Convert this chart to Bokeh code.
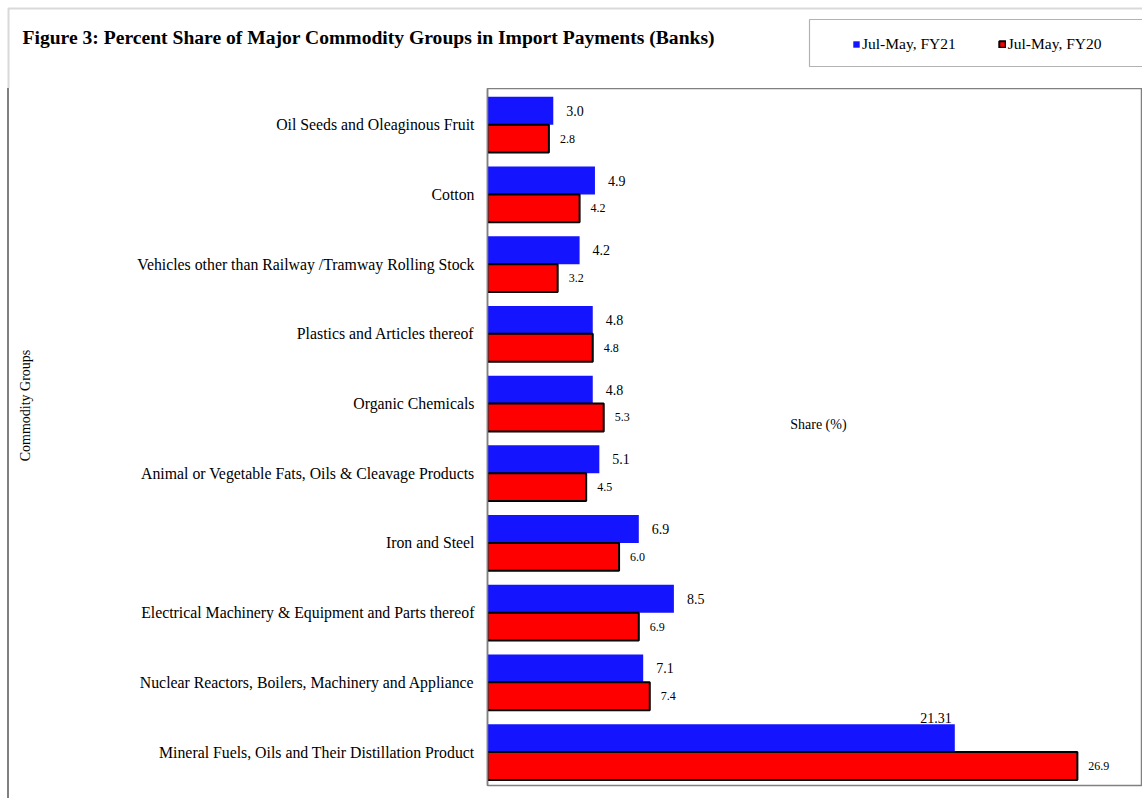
from bokeh.plotting import figure
from bokeh.layouts import column
from bokeh.models import Range1d, FixedTicker, Legend, LegendItem, Label, BoxAnnotation, ColumnDataSource
from bokeh.core.properties import value
from bokeh.embed import file_html
from bokeh.resources import INLINE

categories = [
    "Oil Seeds and Oleaginous Fruit",
    "Cotton",
    "Vehicles other than Railway /Tramway Rolling Stock",
    "Plastics and Articles thereof",
    "Organic Chemicals",
    "Animal or Vegetable Fats, Oils & Cleavage Products",
    "Iron and Steel",
    "Electrical Machinery & Equipment and Parts thereof",
    "Nuclear Reactors, Boilers, Machinery and Appliance",
    "Mineral Fuels, Oils and Their Distillation Product",
]
fy21 = [3.0, 4.9, 4.2, 4.8, 4.8, 5.1, 6.9, 8.5, 7.1, 21.31]
fy20 = [2.8, 4.2, 3.2, 4.8, 5.3, 4.5, 6.0, 6.9, 7.4, 26.9]
series_names = ["Jul-May, FY21", "Jul-May, FY20"]
title_text = "Figure 3: Percent Share of Major Commodity Groups in Import Payments (Banks)"
y_title = "Commodity Groups"
x_title = "Share (%)"

SERIF = "Liberation Serif"
BLUE = "#1414FF"
RED = "#FF0000"
GRAY = "#808080"

n = len(categories)
pos = [n - 1 - k for k in range(n)]

src21 = ColumnDataSource(dict(y=[v + 0.2 for v in pos], x=fy21))
src20 = ColumnDataSource(dict(y=[v - 0.2 for v in pos], x=fy20, lab=[str(v) for v in fy20]))

# ---------------- header (title + legend) ----------------
W = 1142
HH = 88
hdr = figure(width=W, height=HH, output_backend="svg", toolbar_location=None,
             x_range=Range1d(0, W), y_range=Range1d(HH, 0),
             x_axis_location=None, y_axis_location=None,
             min_border=0, min_border_left=0, min_border_right=0,
             min_border_top=0, min_border_bottom=0, frame_align=False)
hdr.xgrid.visible = False
hdr.ygrid.visible = False
hdr.outline_line_color = None
hdr.background_fill_color = "white"
hdr.border_fill_color = "white"

# outer chart border (top and left edges visible)
hdr.add_layout(BoxAnnotation(left=8, right=W + 50, top=8, bottom=HH + 50,
                             fill_alpha=0, line_color=GRAY, line_width=2))
# legend box
hdr.add_layout(BoxAnnotation(left=809, right=W + 50, top=19, bottom=66,
                             fill_alpha=0, line_color="black", line_width=1.2))
hdr.add_layout(Label(x=22, y=37, text=title_text, text_font=SERIF, text_font_style="bold",
                     text_font_size="19.6px", text_baseline="middle", text_color="black"))

# legend proxies (same series styling, not drawn in the header)
lr21 = hdr.hbar(y="y", right="x", left=0, height=0.4, source=src21,
                fill_color=BLUE, line_color=None, visible=False)
lr20 = hdr.hbar(y="y", right="x", left=0, height=0.4, source=src20,
                fill_color=RED, line_color="black", line_width=2, visible=False)
legend = Legend(items=[LegendItem(label=series_names[0], renderers=[lr21]),
                       LegendItem(label=series_names[1], renderers=[lr20])],
                orientation="horizontal", location=(852, 35),
                border_line_alpha=0, background_fill_alpha=0,
                inactive_fill_alpha=0,
                glyph_width=8, glyph_height=8, label_standoff=2, spacing=42,
                padding=0, margin=0,
                label_text_font=SERIF, label_text_font_size="15.5px",
                label_text_color="black")
hdr.add_layout(legend, "center")

# ---------------- main chart ----------------
p = figure(width=W, height=798 - HH, output_backend="svg", toolbar_location=None,
           x_range=Range1d(0, 29.87), y_range=Range1d(-0.48, 9.52),
           x_axis_location=None, frame_align=False,
           min_border_left=487, min_border_right=0, min_border_top=0, min_border_bottom=13)
p.xgrid.visible = False
p.ygrid.visible = False
p.outline_line_color = GRAY
p.outline_line_width = 1.5
p.background_fill_color = "white"
p.border_fill_color = None
p.styles = {"background": "linear-gradient(to right, white 7px, #808080 7px, #808080 9px, white 9px)"}

p.hbar(y="y", right="x", left=0, height=0.4, source=src21, fill_color=BLUE, line_color=None)
p.hbar(y="y", right="x", left=0, height=0.4, source=src20,
       fill_color=RED, line_color="black", line_width=2)

# value labels
norm21 = [i for i, v in enumerate(fy21) if v < 20]
big21 = [i for i, v in enumerate(fy21) if v >= 20]
s_norm21 = ColumnDataSource(dict(x=[fy21[i] for i in norm21], y=[pos[i] + 0.2 for i in norm21],
                                 lab=[str(fy21[i]) for i in norm21]))
s_big21 = ColumnDataSource(dict(x=[fy21[i] for i in big21], y=[pos[i] + 0.4 for i in big21],
                                lab=[str(fy21[i]) for i in big21]))
p.text(x="x", y="y", text="lab", source=s_norm21, x_offset=13, text_baseline="middle",
       text_align="left", text_font=value(SERIF), text_font_size="14px", text_color="black")
p.text(x="x", y="y", text="lab", source=s_big21, x_offset=-3, y_offset=-1, text_baseline="bottom",
       text_align="right", text_font=value(SERIF), text_font_size="14px", text_color="black")
p.text(x="x", y="y", text="lab", source=src20, x_offset=11, text_baseline="middle",
       text_align="left", text_font=value(SERIF), text_font_size="12px", text_color="black")

# y axis
ax = p.yaxis[0]
ax.ticker = FixedTicker(ticks=pos)
ax.major_label_overrides = {pp: c for pp, c in zip(pos, categories)}
ax.axis_line_color = GRAY
ax.axis_line_width = 1.5
ax.major_tick_line_color = None
ax.minor_tick_line_color = None
ax.major_label_text_font = SERIF
ax.major_label_text_font_size = "15.8px"
ax.major_label_text_color = "black"
ax.major_label_standoff = 7

p.add_layout(Label(x=15.09, y=4.70, text=x_title, text_font=SERIF, text_font_size="14px",
                   text_align="center", text_baseline="middle", text_color="black"))
p.add_layout(Label(x=25, y=405 - HH, x_units="canvas", y_units="canvas", text=y_title,
                   angle=1.5708, text_font=SERIF, text_font_size="14px",
                   text_align="center", text_baseline="middle", text_color="black"), "left")

layout = column(hdr, p, spacing=0)
open("out.html", "w").write(file_html(layout, INLINE))
